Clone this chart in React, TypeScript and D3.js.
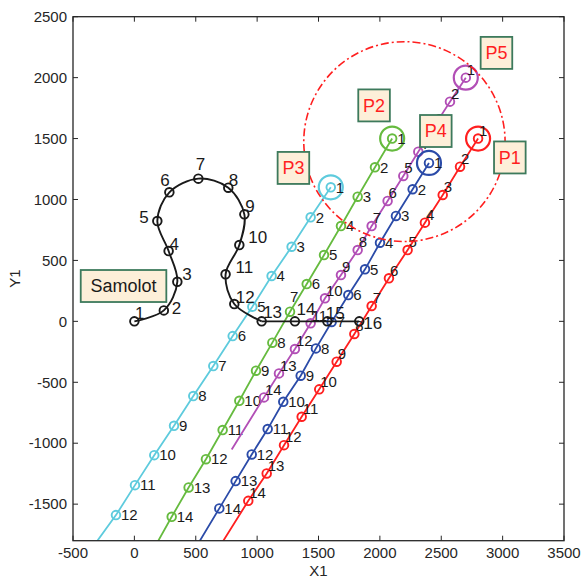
import React from "react";
import * as d3 from "d3";

const W = 582;
const H = 579;

// axis ranges and ticks
const X_DOMAIN = [-500, 3500];
const Y_DOMAIN = [-1800, 2500];
const X_TICKS = [-500, 0, 500, 1000, 1500, 2000, 2500, 3000, 3500];
const Y_TICKS = [-1500, -1000, -500, 0, 500, 1000, 1500, 2000, 2500];

// aircraft ("Samolot") track
const samolotX = [0, 240, 350, 279, 187, 285, 521, 765, 896, 855, 743, 814, 1037, 1308, 1572, 1832];
const samolotY = [0, 90, 325, 577, 823, 1059, 1171, 1097, 878, 626, 386, 142, 0, 0, 0, 0];
// label nudges (px) for the aircraft points
const samolotLabelDx = [0.5, 8, 5, 1, -18, -9, -2.5, 0.5, 1, 9, 10, 1.5, 1.5, 1.5, -1.5, 4];
const samolotLabelDy = [-8, -2, -8, -7, -4, -12, -15, -8, -8, -8, -7, -7, -9, -12, -8, 2];

// missiles P1..P5
const p1X = [2800, 2653, 2512, 2367, 2226, 2074, 1933, 1792, 1648, 1506, 1363, 1219, 1078, 928];
const p1Y = [1500, 1269, 1037, 810, 585, 353, 126, -104, -331, -558, -783, -1016, -1248, -1473];
const p1Tail = [700, -1840];

const p2X = [2100, 1960, 1819, 1683, 1545, 1404, 1268, 1124, 991, 855, 719, 583, 442, 304];
const p2Y = [1500, 1264, 1023, 782, 544, 306, 79, -175, -405, -652, -892, -1131, -1363, -1604];
const p2Tail = [170, -1845];

const p3X = [1600, 1436, 1281, 1118, 961, 801, 643, 480, 323, 162, 5, -150];
const p3Y = [1100, 854, 612, 372, 120, -121, -367, -613, -857, -1098, -1344, -1590];
const p3Tail = [-330, -1840];

const p4X = [2400, 2267, 2131, 2001, 1879, 1743, 1607, 1479, 1355, 1213, 1086, 956, 825, 692];
const p4Y = [1300, 1084, 865, 645, 427, 216, -5, -222, -446, -660, -884, -1092, -1311, -1535];
const p4Tail = [510, -1840];

const p5X = [2700, 2571, 2441, 2313, 2191, 2063, 1933, 1819, 1683, 1553, 1436, 1308, 1178, 1056];
const p5Y = [2000, 1803, 1598, 1392, 1193, 988, 782, 585, 380, 189, -16, -227, -427, -624];
const p5Tail = [793, -1051];

// detection zone
const zoneCenter = [2200, 1475];
const zoneRadius = 820;

// text boxes (left edge, vertical middle)
const boxNames = ["Samolot", "P1", "P2", "P3", "P4", "P5"];
const boxX = [-437, 2930, 1824, 1167, 2327, 2821];
const boxY = [290, 1345, 1772, 1259, 1562, 2203];

const FONT = "'Liberation Sans', Arial, Helvetica, sans-serif";
const INK = "#1a1a1a";

const series = [
  { name: "P3", xs: p3X, ys: p3Y, tail: p3Tail, color: "#5ecbdd", dx: 5, dy: 0 },
  { name: "P2", xs: p2X, ys: p2Y, tail: p2Tail, color: "#66bb3f", dx: 5, dy: 0 },
  { name: "P5", xs: p5X, ys: p5Y, tail: p5Tail, color: "#b24fb6", dx: 1, dy: -8 },
  { name: "P4", xs: p4X, ys: p4Y, tail: p4Tail, color: "#2b4ba8", dx: 5, dy: 0 },
  { name: "P1", xs: p1X, ys: p1Y, tail: p1Tail, color: "#ff1f1f", dx: 1, dy: -8 },
];

export default function App() {
  const left = 73, right = 564, top = 16.7, bottom = 540.7;
  const x = d3.scaleLinear().domain(X_DOMAIN).range([left, right]);
  const y = d3.scaleLinear().domain(Y_DOMAIN).range([bottom, top]);
  const line = d3.line<number[]>().x((d) => x(d[0])).y((d) => y(d[1]));
  const curve = d3.line<number[]>().x((d) => x(d[0])).y((d) => y(d[1])).curve(d3.curveCatmullRom.alpha(0.5));

  const sam = samolotX.map((v, i) => [v, samolotY[i]]);
  const turn = sam.slice(0, 13);
  const straight = sam.slice(12);

  return (
    <svg width={W} height={H} style={{ position: "absolute", left: 0, top: 0, background: "#fff" }} fontFamily={FONT}>
      <defs>
        <clipPath id="plotClip">
          <rect x={left} y={top} width={right - left} height={bottom - top} />
        </clipPath>
      </defs>
      <rect x={0} y={0} width={W} height={H} fill="#fff" />

      <g clipPath="url(#plotClip)">
        {series.map((s) => {
          const pts = s.xs.map((v, i) => [v, s.ys[i]]);
          return (
            <g key={s.name}>
              <path d={line([...pts, s.tail]) || ""} fill="none" stroke={s.color} strokeWidth={1.8} />
              {pts.map((p, i) => (
                <circle key={i} cx={x(p[0])} cy={y(p[1])} r={4.3} fill="none" stroke={s.color} strokeWidth={1.9} />
              ))}
              <circle cx={x(pts[0][0])} cy={y(pts[0][1])} r={12} fill="none" stroke={s.color} strokeWidth={2.2} />
              {pts.map((p, i) => {
                const over = s.name === "P2" && i === 6;
                return (
                  <text key={"t" + i} x={x(p[0]) + (over ? 0 : s.dx)} y={y(p[1]) + (over ? -15 : s.dy)} dy="0.35em"
                    fontSize={15} fill={INK}>
                    {i + 1}
                  </text>
                );
              })}
            </g>
          );
        })}

        <path d={curve(turn) || ""} fill="none" stroke={INK} strokeWidth={1.9} />
        <path d={line(straight) || ""} fill="none" stroke={INK} strokeWidth={1.9} />
        {sam.map((p, i) => (
          <circle key={i} cx={x(p[0])} cy={y(p[1])} r={4.3} fill="none" stroke={INK} strokeWidth={1.9} />
        ))}
        {sam.map((p, i) => (
          <text key={"s" + i} x={x(p[0]) + samolotLabelDx[i]} y={y(p[1]) + samolotLabelDy[i]} dy="0.35em"
            fontSize={17} fill={INK}>
            {i + 1}
          </text>
        ))}

        <ellipse cx={x(zoneCenter[0])} cy={y(zoneCenter[1])}
          rx={x(zoneCenter[0] + zoneRadius) - x(zoneCenter[0])}
          ry={y(zoneCenter[1]) - y(zoneCenter[1] + zoneRadius)}
          fill="none" stroke="#ff1f1f" strokeWidth={1.6} strokeDasharray="8,3,2,3" />

        {boxNames.map((n, i) => {
          const fs = 18;
          const bw = n.length * fs * 0.6 + 10;
          const bh = 32;
          const bx = x(boxX[i]);
          const by = y(boxY[i]);
          return (
            <g key={n}>
              <rect x={bx} y={by - bh / 2} width={bw} height={bh} fill="#fdefd9" stroke="#3d7a5c" strokeWidth={1.8} />
              <text x={bx + bw / 2} y={by} dy="0.35em" textAnchor="middle" fontSize={fs}
                fill={n === "Samolot" ? INK : "#ff1f1f"}>
                {n}
              </text>
            </g>
          );
        })}
      </g>

      {/* axes box and ticks */}
      <rect x={left} y={top} width={right - left} height={bottom - top} fill="none" stroke="#262626" strokeWidth={1.3} />
      {X_TICKS.map((t) => (
        <g key={"x" + t}>
          <line x1={x(t)} x2={x(t)} y1={bottom} y2={bottom - 5} stroke="#262626" />
          <line x1={x(t)} x2={x(t)} y1={top} y2={top + 5} stroke="#262626" />
          <text x={x(t)} y={bottom + 12} dy="0.35em" textAnchor="middle" fontSize={15} fill="#262626">{t}</text>
        </g>
      ))}
      {Y_TICKS.map((t) => (
        <g key={"y" + t}>
          <line x1={left} x2={left + 5} y1={y(t)} y2={y(t)} stroke="#262626" />
          <line x1={right} x2={right - 5} y1={y(t)} y2={y(t)} stroke="#262626" />
          <text x={left - 6} y={y(t)} dy="0.35em" textAnchor="end" fontSize={15} fill="#262626">{t}</text>
        </g>
      ))}
      <text x={(left + right) / 2} y={571} dy="0.35em" textAnchor="middle" fontSize={15} fill="#262626">X1</text>
      <text transform={`translate(15,${(top + bottom) / 2}) rotate(-90)`} dy="0.35em" textAnchor="middle"
        fontSize={15} fill="#262626">Y1</text>
    </svg>
  );
}
